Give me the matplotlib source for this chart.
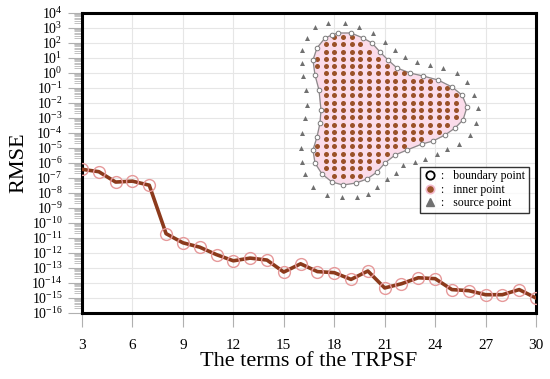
import numpy as np
import matplotlib
matplotlib.use("Agg")
import matplotlib.pyplot as plt
from matplotlib.ticker import LogLocator, LogFormatterMathtext, NullFormatter
from matplotlib.path import Path
from matplotlib.lines import Line2D

plt.rcParams["font.family"] = ["Liberation Serif", "DejaVu Serif"]
plt.rcParams["mathtext.fontset"] = "custom"
plt.rcParams["mathtext.rm"] = "Liberation Serif"

# RMSE vs number of TRPSF terms (log10 values)
terms = np.arange(3, 31)
log_rmse = [-6.42, -6.58, -7.27, -7.21, -7.48, -10.71, -11.32, -11.61, -12.11,
            -12.52, -12.34, -12.47, -13.27, -12.72, -13.24, -13.31, -13.76,
            -13.20, -14.33, -14.05, -13.65, -13.71, -14.44, -14.51, -14.78,
            -14.78, -14.44, -15.00]
rmse = 10.0 ** np.array(log_rmse)

# inset geometry, in figure pixels (x right, y down)
boundary_xy = [(338, 33), (351, 33), (363, 38), (372, 43), (380, 52), (388, 60),
               (397, 68), (410, 73), (423, 76), (438, 80), (452, 87), (462, 95),
               (467, 107), (463, 120), (455, 128), (445, 135), (433, 141),
               (422, 144), (407, 150), (395, 155), (385, 163), (377, 172),
               (367, 179), (356, 183), (343, 185), (332, 182), (322, 174),
               (315, 163), (313, 150), (317, 137), (320, 123), (321, 110),
               (319, 90), (315, 75), (313, 60), (317, 48), (325, 38), (332, 35)]
source_xy = [(315, 27), (328, 23), (345, 23), (359, 27), (373, 33), (385, 42),
             (395, 50), (405, 57), (417, 62), (430, 65), (443, 68), (457, 73),
             (467, 82), (474, 95), (478, 108), (476, 123), (470, 135), (459, 144),
             (447, 149), (437, 154), (425, 159), (415, 162), (403, 165), (396, 173),
             (387, 179), (377, 187), (368, 194), (357, 197), (342, 197), (327, 195),
             (313, 187), (305, 174), (302, 162), (301, 148), (302, 133), (305, 118),
             (307, 105), (306, 90), (303, 76), (302, 63), (302, 50), (307, 38)]
inner_dx, inner_dy = 8.7, 7.3

W, H = 550, 379
fig = plt.figure(figsize=(5.5, 3.79), dpi=100)
ax = fig.add_axes([82 / W, 1 - 313 / H, (536 - 82) / W, 300 / H])

ax.plot(terms, rmse, color="#8c3a1c", lw=2.6, zorder=3)
ax.plot(terms, rmse, ls="none", marker="o", ms=8.5, mfc="none",
        mec="#e6999a", mew=1.0, zorder=4)

ax.set_yscale("log")
ax.set_xlim(3, 30)
ax.set_ylim(1e-16, 1e4)
ax.set_xticks(range(3, 31, 3))
ax.yaxis.set_major_locator(LogLocator(base=10, numticks=40))
ax.yaxis.set_major_formatter(LogFormatterMathtext())
ax.yaxis.set_minor_locator(LogLocator(base=10, subs=np.arange(2, 10), numticks=40))
ax.yaxis.set_minor_formatter(NullFormatter())

ax.grid(True, which="major", color="#e6e6e6", lw=0.8)
ax.set_axisbelow(True)
for s in ax.spines.values():
    s.set_linewidth(2.2)
    s.set_color("black")
ax.tick_params(axis="x", which="major", direction="out", length=10, color="#b0b0b0",
               labelsize=11, pad=9)
ax.tick_params(axis="y", which="major", direction="out", length=10, color="#b0b0b0",
               labelsize=10, pad=4)
ax.tick_params(axis="y", which="minor", direction="out", length=6, color="#b8b8b8")
ax.set_xlabel("The terms of the TRPSF", fontsize=16, labelpad=0)
ax.set_ylabel("RMSE", fontsize=16, labelpad=2)

# inset: domain with collocation / source points
ax_in = fig.add_axes([290 / W, 1 - 202 / H, 192 / W, 192 / H])
ax_in.set_xlim(290, 482)
ax_in.set_ylim(202, 10)
ax_in.axis("off")
ax_in.patch.set_alpha(0)

bxy = np.array(boundary_xy, dtype=float)
ax_in.fill(bxy[:, 0], bxy[:, 1], color="#fbdcea", zorder=1)
closed = np.vstack([bxy, bxy[:1]])
ax_in.plot(closed[:, 0], closed[:, 1], color="#8a8a8a", lw=0.9, zorder=2)

gx, gy = np.meshgrid(np.arange(bxy[:, 0].min(), bxy[:, 0].max(), inner_dx),
                     np.arange(bxy[:, 1].min(), bxy[:, 1].max(), inner_dy))
pts = np.column_stack([gx.ravel() + 4, gy.ravel() + 4])
inside = Path(bxy).contains_points(pts, radius=-5)
ax_in.scatter(pts[inside, 0], pts[inside, 1], s=13, color="#9a5128", lw=0, zorder=3)
ax_in.scatter(bxy[:, 0], bxy[:, 1], s=11, facecolor="white", edgecolor="#7a7a7a",
              lw=0.7, zorder=4)
sxy = np.array(source_xy, dtype=float)
ax_in.scatter(sxy[:, 0], sxy[:, 1], s=13, marker="^", color="#707070", lw=0, zorder=3)

handles = [
    Line2D([], [], ls="none", marker="o", ms=6, mfc="white", mec="black", mew=1.3),
    Line2D([], [], ls="none", marker="o", ms=6, mfc="#9a5128", mec="#f3b9cc", mew=1.2),
    Line2D([], [], ls="none", marker="^", ms=6, color="#707070"),
]
labels = [":   boundary point", ":   inner point", ":   source point"]
leg = ax.legend(handles, labels, loc="upper left", bbox_to_anchor=(0.744, 0.487),
                fontsize=8.5, frameon=True, fancybox=False, edgecolor="black",
                handletextpad=0.3, handlelength=1.2, borderpad=0.3,
                labelspacing=0.12, borderaxespad=0)
leg.get_frame().set_linewidth(1.0)
leg.set_zorder(10)

fig.savefig("out.png", dpi=100)
